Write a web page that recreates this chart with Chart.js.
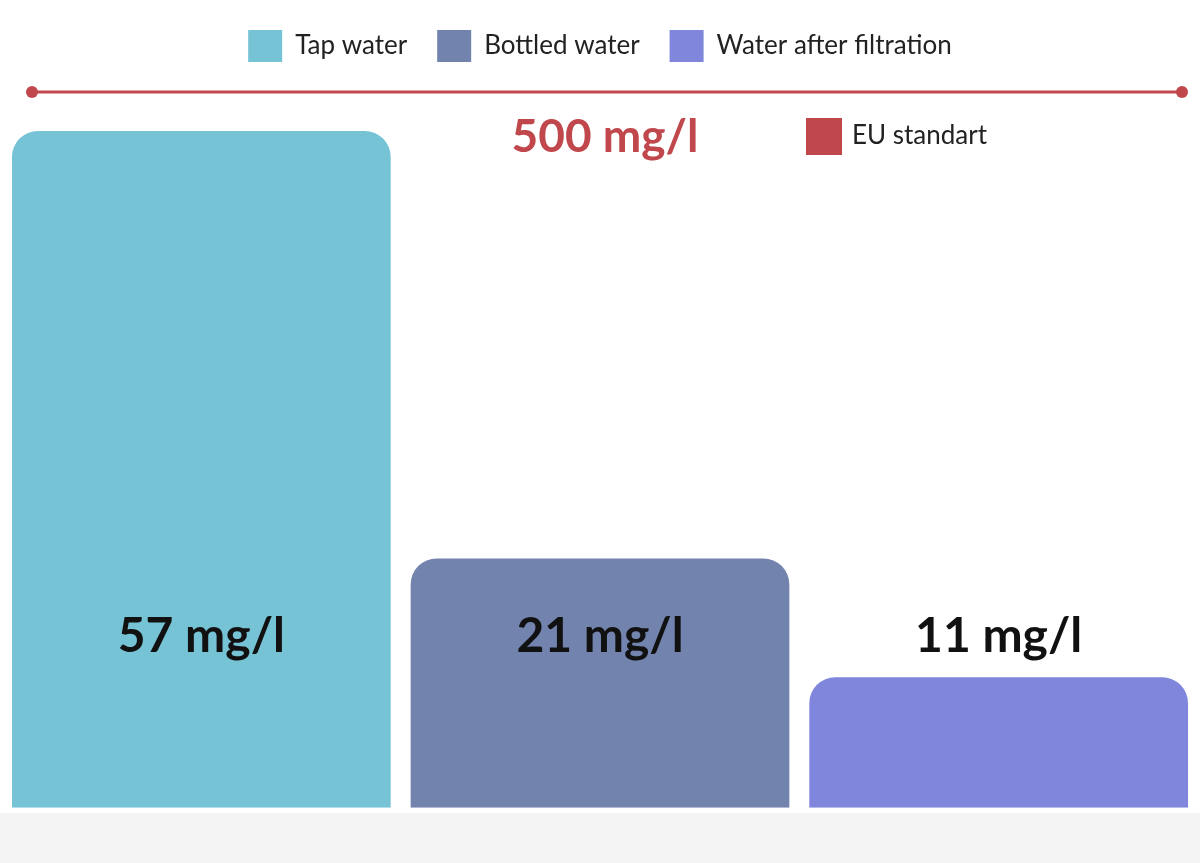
<!DOCTYPE html>
<html><head><meta charset="utf-8">
<script src="https://cdn.jsdelivr.net/npm/chart.js@4/dist/chart.umd.min.js"></script>
<style>html,body{margin:0;padding:0;background:#fff;}#w{width:1200px;height:863px;position:relative;}
#bg{position:absolute;left:0;top:813px;width:1200px;height:50px;background:#f4f4f4;}</style>
</head><body><div id="w"><div id="bg"></div><canvas id="c" width="1200" height="863"></canvas></div>
<script>
const categories = ["Chloride level"];
const seriesNames = ["Tap water", "Bottled water", "Water after filtration"];
const seriesValues = [57, 21, 11];
const seriesColors = ["#76c3d6", "#7283ae", "#7f86dc"];
const euStandard = 500;
const euLabel = "EU standart";
const yMax = 58.6;

const FONT = "Lato, 'Open Sans', sans-serif";
const overlay = {
  id: "overlay",
  afterDatasetsDraw(chart) {
    const {ctx, chartArea: a} = chart;
    ctx.save();
    // EU line at top
    const y = a.top - 20;
    ctx.strokeStyle = "#c0474b"; ctx.fillStyle = "#c0474b"; ctx.lineWidth = 3;
    ctx.beginPath(); ctx.moveTo(32, y); ctx.lineTo(1182, y); ctx.stroke();
    [32, 1182].forEach(x => { ctx.beginPath(); ctx.arc(x, y, 6, 0, Math.PI*2); ctx.fill(); });
    ctx.font = "bold 46px " + FONT; ctx.textAlign = "center"; ctx.textBaseline = "middle";
    ctx.fillText(euStandard + " mg/l", 605, 137);
    ctx.fillRect(806, 118, 36, 37);
    ctx.fillStyle = "#222"; ctx.font = "26px " + FONT; ctx.textAlign = "left";
    ctx.fillText(euLabel, 852, 136);
    // value labels
    ctx.fillStyle = "#111"; ctx.font = "bold 48px " + FONT; ctx.textAlign = "center";
    chart.data.datasets.forEach((ds, i) => {
      const el = chart.getDatasetMeta(i).data[0];
      ctx.fillText(ds.data[0] + " mg/l", el.x, 637);
    });
    ctx.restore();
  }
};

new Chart(document.getElementById("c"), {
  type: "bar",
  data: {
    labels: categories,
    datasets: seriesNames.map((n, i) => ({
      label: n, data: [seriesValues[i]], backgroundColor: seriesColors[i],
      borderRadius: {topLeft: 26, topRight: 26, bottomLeft: 0, bottomRight: 0}, borderSkipped: false,
      barPercentage: 0.95, categoryPercentage: 1
    }))
  },
  options: {
    responsive: false, animation: false,
    layout: {padding: {left: 2, right: 2, top: 0, bottom: 0}},
    plugins: {
      legend: {position: "top", labels: {font: {family: FONT, size: 26}, color: "#222",
        boxWidth: 34, boxHeight: 32, padding: 30}},
      tooltip: {enabled: false}
    },
    scales: {
      x: {grid: {display: false}, border: {display: false}, ticks: {font: {family: FONT, size: 26}, color: "#222", padding: 8}},
      y: {display: false, min: 0, max: yMax}
    }
  },
  plugins: [overlay, {
    id: "legendPad",
    beforeInit(chart) {
      const fit = chart.legend.fit;
      chart.legend.fit = function() { fit.bind(chart.legend)(); this.height += 40; };
    }
  }]
});
</script></body></html>
